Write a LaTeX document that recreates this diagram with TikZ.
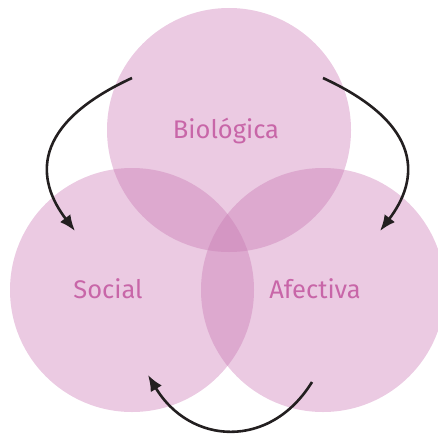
\documentclass[tikz,border=0pt]{standalone}
\usepackage{fontspec}
\setmainfont{Fira Sans}
\usetikzlibrary{arrows.meta}
\definecolor{one}{HTML}{EBCAE2}
\definecolor{two}{HTML}{DDA9CF}
\definecolor{three}{HTML}{D496C3}
\definecolor{txt}{HTML}{C866A8}
\definecolor{arr}{HTML}{231F20}
\tikzset{
  lbl/.style={text=txt, font=\fontsize{25.5}{30}\selectfont, anchor=base, inner sep=0pt},
  cyc/.style={draw=arr, line width=2.6pt, -{Latex[length=16pt,width=13pt]}}
}
\begin{document}
\begin{tikzpicture}[x=1pt,y=-1pt]
\useasboundingbox (0,0) rectangle (438,433);
\clip (0,0) rectangle (438,433);
\def\rr{122}
\coordinate (T) at (229,130);
\coordinate (L) at (132,290);
\coordinate (R) at (323,290);
\fill[one] (T) circle (\rr);
\fill[one] (L) circle (\rr);
\fill[one] (R) circle (\rr);
\begin{scope}
  \clip (T) circle (\rr);
  \fill[two] (L) circle (\rr);
  \fill[two] (R) circle (\rr);
\end{scope}
\begin{scope}
  \clip (L) circle (\rr);
  \fill[two] (R) circle (\rr);
  \clip (R) circle (\rr);
  \fill[three] (T) circle (\rr);
\end{scope}
\node[lbl] (bio) at (226,138) {Biológica};
\node[lbl] (soc) at (108,298) {Social};
\node[lbl] (afe) at (315,298) {Afectiva};
\coordinate (a1) at (132,78);
\coordinate (a2) at (75,231);
\coordinate (b1) at (323,78);
\coordinate (b2) at (380,231);
\coordinate (c1) at (312,382);
\coordinate (c2) at (148,375);
\draw[cyc] (a1) .. controls (30,125) and (36,180) .. (a2);
\draw[cyc] (b1) .. controls (425,125) and (419,180) .. (b2);
\draw[cyc] (c1) .. controls (270,450) and (190,445) .. (c2);
\end{tikzpicture}
\end{document}
